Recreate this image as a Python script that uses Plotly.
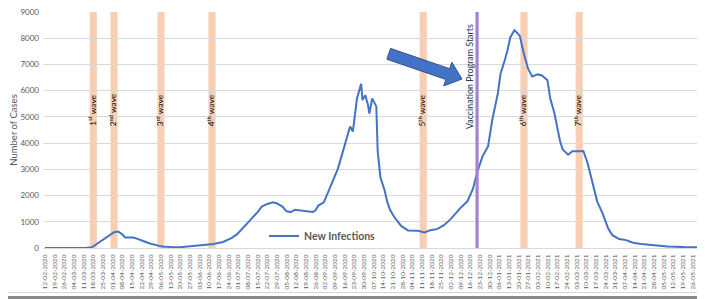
import pandas as pd
import plotly.graph_objects as go

# ---------------- data ----------------
dates = [
    "2020-02-12", "2020-03-12", "2020-03-17", "2020-03-19", "2020-03-22", "2020-03-25",
    "2020-03-28", "2020-03-31", "2020-04-02", "2020-04-05", "2020-04-08", "2020-04-10",
    "2020-04-13", "2020-04-16", "2020-04-19", "2020-04-22", "2020-04-25", "2020-04-28",
    "2020-05-01", "2020-05-04", "2020-05-07", "2020-05-10", "2020-05-15", "2020-05-20",
    "2020-05-27", "2020-06-06", "2020-06-13", "2020-06-20", "2020-06-26", "2020-06-30",
    "2020-07-03", "2020-07-05", "2020-07-10", "2020-07-15", "2020-07-18", "2020-07-22",
    "2020-07-26", "2020-07-29", "2020-08-02", "2020-08-05", "2020-08-08", "2020-08-11",
    "2020-08-15", "2020-08-19", "2020-08-24", "2020-08-26", "2020-08-28", "2020-09-01",
    "2020-09-03", "2020-09-06", "2020-09-08", "2020-09-11", "2020-09-13", "2020-09-16",
    "2020-09-18", "2020-09-20", "2020-09-22", "2020-09-23", "2020-09-25", "2020-09-28",
    "2020-09-29", "2020-10-01", "2020-10-03", "2020-10-04", "2020-10-06", "2020-10-09",
    "2020-10-10", "2020-10-12", "2020-10-15", "2020-10-17", "2020-10-19", "2020-10-22",
    "2020-10-27", "2020-11-01", "2020-11-08", "2020-11-13", "2020-11-17", "2020-11-22",
    "2020-11-27", "2020-12-02", "2020-12-09", "2020-12-14", "2020-12-18", "2020-12-21",
    "2020-12-25", "2020-12-29", "2021-01-01", "2021-01-05", "2021-01-07", "2021-01-10",
    "2021-01-12", "2021-01-14", "2021-01-17", "2021-01-19", "2021-01-21", "2021-01-24",
    "2021-01-27", "2021-01-30", "2021-02-03", "2021-02-06", "2021-02-10", "2021-02-12",
    "2021-02-15", "2021-02-19", "2021-02-21", "2021-02-25", "2021-02-28", "2021-03-05",
    "2021-03-08", "2021-03-11", "2021-03-15", "2021-03-18", "2021-03-22", "2021-03-26",
    "2021-03-29", "2021-04-03", "2021-04-08", "2021-04-13", "2021-04-19", "2021-04-28",
    "2021-05-08", "2021-05-20", "2021-05-31",
]
new_infections = [
    0, 0, 30, 100, 200, 290,
    400, 510, 600, 630, 520, 400,
    390, 400, 350, 300, 230, 170,
    120, 90, 60, 40, 30, 30,
    60, 100, 150, 230, 380, 520,
    700, 800, 1080, 1370, 1580, 1680,
    1740, 1700, 1580, 1400, 1370, 1460,
    1440, 1400, 1370, 1440, 1620, 1740,
    2000, 2350, 2620, 3000, 3350, 3940,
    4250, 4630, 4440, 4820, 5700, 6260,
    5640, 5830, 5450, 5130, 5700, 5400,
    3700, 2690, 2200, 1750, 1450, 1180,
    840, 670, 660, 590, 680, 720,
    870, 1110, 1530, 1780, 2250, 2870,
    3500, 3880, 4880, 5880, 6650, 7150,
    7530, 8020, 8300, 8210, 8080, 7390,
    6830, 6540, 6620, 6580, 6400, 5700,
    5150, 4100, 3760, 3560, 3690, 3690,
    3700, 3250, 2470, 1780, 1310, 740,
    490, 340, 300, 200, 150, 100,
    60, 35, 30,
]

wave_dates = ["2020-03-18", "2020-04-02", "2020-05-06", "2020-06-12",
              "2020-11-12", "2021-01-24", "2021-03-05"]
wave_labels = ["1<sup>st</sup> wave", "2<sup>nd</sup> wave", "3<sup>rd</sup> wave",
               "4<sup>th</sup> wave", "5<sup>th</sup> wave", "6<sup>th</sup> wave",
               "7<sup>th</sup> wave"]
vaccination_date = "2020-12-21"
vaccination_label = "Vaccination Program Starts"
series_name = "New Infections"
y_title = "Number of Cases"
first_tick = "2020-02-12"

# ---------------- layout helpers ----------------
# the page body adds an 8px offset, so the figure is drawn 8px smaller
OFF = 8
W, H = 705 - OFF, 299 - OFF
PLOT_L, PLOT_R, PLOT_T, PLOT_B = 43, 700, 12, 248   # in reference-picture pixels
ML, MT = PLOT_L - OFF, PLOT_T - OFF
MR = W - (PLOT_R - OFF)
MB = H - (PLOT_B - OFF)
PW, PH = PLOT_R - PLOT_L, PLOT_B - PLOT_T


def px2paper(x, y):
    """reference-picture pixel -> paper coordinates"""
    return (x - PLOT_L) / PW, (PLOT_B - y) / PH


FONT = "Lato, 'Open Sans', sans-serif"
GREY = "#595959"
LINE_BLUE = "#4472c4"

fig = go.Figure()
fig.add_trace(go.Scatter(
    x=dates, y=new_infections, mode="lines", name=series_name,
    line=dict(color=LINE_BLUE, width=2),
))

shapes = []
annotations = []
half_band = pd.Timedelta(hours=62)
for d, lab in zip(wave_dates, wave_labels):
    t = pd.Timestamp(d)
    shapes.append(dict(type="rect", xref="x", yref="paper",
                       x0=t - half_band, x1=t + half_band, y0=0, y1=1,
                       fillcolor="#f8cfb3", line=dict(width=0), layer="below"))
    annotations.append(dict(x=d, y=5250, xref="x", yref="y", text=lab,
                            textangle=-90, showarrow=False, xshift=-1,
                            font=dict(family=FONT, size=8.4, color="#000000")))

shapes.append(dict(type="line", xref="x", yref="paper",
                   x0=vaccination_date, x1=vaccination_date, y0=0, y1=1,
                   line=dict(color="#a283d2", width=3.2), layer="above"))
annotations.append(dict(x=vaccination_date, y=6520, xref="x", yref="y",
                        text=vaccination_label, textangle=-90, showarrow=False,
                        xshift=-8, font=dict(family=FONT, size=8.9, color="#203864")))

# block arrow pointing at the vaccination line
arrow_px = [(390.55, 48.4), (449.65, 68.7), (451.9, 62.3), (462.0, 79.0),
            (443.7, 85.9), (445.95, 79.5), (386.85, 59.2)]
pts = [px2paper(x, y) for x, y in arrow_px]
path = "M " + " L ".join(f"{x:.4f} {y:.4f}" for x, y in pts) + " Z"
shapes.append(dict(type="path", xref="paper", yref="paper", path=path,
                   fillcolor="#4472c4", line=dict(color="#2f528f", width=1),
                   layer="above"))

# picture frame / shadow
x0p, _ = px2paper(0, 0)
x1p, _ = px2paper(706, 0)
_, yb1 = px2paper(0, 292.5)
_, yb2 = px2paper(0, 296)
_, yb3 = px2paper(0, 300)
xr1, _ = px2paper(702, 0)
_, ytop = px2paper(0, 0)
shapes.append(dict(type="line", xref="paper", yref="paper", x0=x0p, x1=x1p,
                   y0=yb1, y1=yb1, line=dict(color="#d6d6d6", width=1)))
shapes.append(dict(type="rect", xref="paper", yref="paper", x0=x0p, x1=x1p,
                   y0=yb3, y1=yb2, fillcolor="#8a8a8a", line=dict(width=0)))
shapes.append(dict(type="rect", xref="paper", yref="paper", x0=xr1, x1=x1p,
                   y0=yb3, y1=ytop, fillcolor="#bdbdbd", line=dict(width=0)))

lx, ly = px2paper(264, 236)

fig.update_layout(
    width=W, height=H,
    margin=dict(l=ML, r=MR, t=MT, b=MB, autoexpand=False),
    paper_bgcolor="white", plot_bgcolor="white",
    font=dict(family=FONT, color=GREY),
    shapes=shapes, annotations=annotations,
    showlegend=True,
    legend=dict(x=lx, y=ly, xanchor="left", yanchor="middle",
                bgcolor="rgba(0,0,0,0)",
                font=dict(family=FONT, size=10.5, color=GREY, weight="bold")),
    xaxis=dict(
        type="date", automargin=False,
        range=["2020-02-10 13:00", "2021-05-31 12:00"],
        tick0=first_tick, dtick=7 * 86400000, tickformat="%d-%m-%Y",
        tickangle=-90, tickfont=dict(size=6.5, color=GREY),
        showgrid=False, showline=True, linecolor="#d9d9d9", linewidth=1,
        ticks="", ticklabelstandoff=3,
    ),
    yaxis=dict(
        range=[0, 9000], dtick=1000, tickformat="d", automargin=False,
        tickfont=dict(size=8, color=GREY), ticklabeloverflow="allow",
        gridcolor="#d9d9d9", gridwidth=1,
        zeroline=True, zerolinecolor="#d9d9d9", zerolinewidth=1,
        showline=False, ticks="", ticklabelstandoff=3,
        title=dict(text=y_title, font=dict(size=9.5, color=GREY), standoff=1),
    ),
)

fig.write_html("out.html")
